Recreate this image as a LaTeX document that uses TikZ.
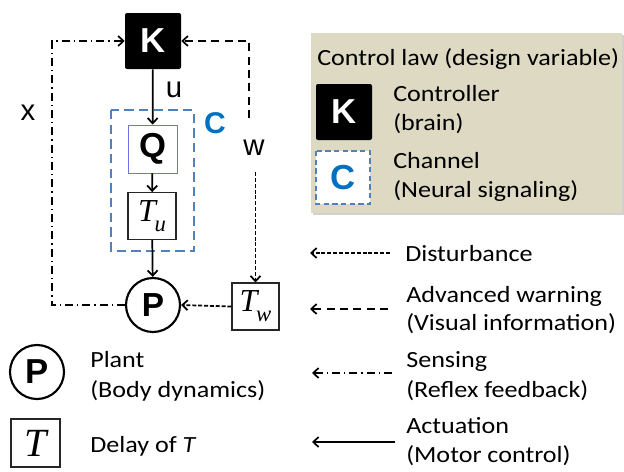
\documentclass[tikz,border=0pt]{standalone}
\usepackage{fontspec}
\setmainfont{Carlito}[FakeStretch=1.125]
\newfontfamily\arialf{Liberation Sans}
\newfontfamily\tnr{Liberation Serif}
\newcommand{\Tsym}[1]{{\tnr\itshape T\kern-0.04em\raisebox{-0.32em}{\fontsize{17}{17}\selectfont #1}}}
\usetikzlibrary{arrows.meta}
\definecolor{legbg}{HTML}{DDD9C3}
\definecolor{cblue}{HTML}{4F81BD}
\definecolor{cletter}{HTML}{0070C0}
\definecolor{qborder}{HTML}{7070F0}
\begin{document}
\begin{tikzpicture}[x=0.75pt,y=-0.75pt,
  >={Straight Barb[length=4pt,width=7.5pt]},
  conn/.style={line width=1.3pt},
  sense/.style={conn, dash pattern=on 6pt off 3pt on 1pt off 3pt},
  warn/.style={conn, dash pattern=on 6pt off 4pt},
  dist/.style={conn, dash pattern=on 3pt off 1.4pt},
  act/.style={conn},
  txt/.style={anchor=base west, inner sep=0pt, font=\fontsize{17.4}{20}\selectfont},
  kbox/.style={fill=black, rounded corners=1.5pt, minimum size=42pt, inner sep=0pt, text=white, font=\arialf\bfseries\fontsize{26}{26}\selectfont},
  qbox/.style={draw=qborder, line width=0.6pt, minimum width=36.75pt, minimum height=36pt, inner sep=0pt, font=\arialf\bfseries\fontsize{26}{26}\selectfont},
  tbox/.style={draw=black!85, line width=0.8pt, fill=white, minimum width=36pt, minimum height=35pt, inner sep=0pt, font=\fontsize{24}{24}\selectfont},
  pcirc/.style={circle, draw, line width=1.6pt, minimum size=40.5pt, inner sep=0pt, font=\arialf\bfseries\fontsize{25}{25}\selectfont},
  sig/.style={inner sep=0pt, font=\arialf\fontsize{22}{22}\selectfont},
  cdash/.style={draw=cblue, line width=1.7pt, dash pattern=on 7pt off 4pt},
]
\useasboundingbox (0,0) rectangle (624,471);

% legend background
\fill[black!18] (313,35) rectangle (624,215);
\fill[legbg] (311,33) rectangle (622,213);

% main diagram nodes
\node[kbox] (K) at (153,41) {K};
\node[qbox] (Q) at (152.5,149) {Q};
\node[tbox] (Tu) at (152,216) {\Tsym{u}};
\node[pcirc] (P) at (153,305) {P};
\node[tbox, minimum width=35.25pt, minimum height=35.25pt] (Tw) at (255.5,306.5) {\Tsym{w}};

% channel box
\draw[cdash] (111,110) rectangle (194,251);
\node[inner sep=0pt, text=cletter, font=\arialf\bfseries\fontsize{22.5}{22.5}\selectfont] (Clab) at (215,123) {C};

% signal labels
\node[sig] (xl) at (28,113) {x};
\node[sig] (ul) at (174,90) {u};
\node[sig] (wl) at (254,148) {w};

% coordinates for loops
\coordinate (xbl) at (52,305);
\coordinate (xtl) at (52,41);
\coordinate (wtop) at (249,41);
\coordinate (wend) at (249,118);
\coordinate (wstart) at (255.5,172);

% connectors
\draw[act,->] (K) -- (Q);
\draw[act,->] (Q) -- (Tu);
\draw[act,->] (Tu) -- (P);
\draw[sense,->] (P.west) -- (xbl) -- (xtl) -- (K.west);
\draw[warn,->] (wend) -- (wtop) -- (K.east);
\draw[dist,->] (wstart) -- (Tw.north);
\draw[dist,->] (Tw.west) -- (P.east);

% legend (top right)
\node[txt] (lawt) at (317,65) {Control law (design variable)};
\node[kbox] (Kleg) at (344,112) {K};
\node[txt] (ctrl1) at (393,101) {Controller};
\node[txt] (ctrl2) at (393,130) {(brain)};
\node[fill=white, minimum width=40pt, minimum height=39.5pt, inner sep=0pt] (Cleg) at (343,177.5) {};
\draw[draw=cblue, line width=1.4pt, dash pattern=on 4pt off 2.5pt] (316,151) rectangle (370,204);
\node[inner sep=0pt, text=cletter, font=\arialf\bfseries\fontsize{26}{26}\selectfont] (Clegl) at (343,177.5) {C};
\node[txt] (ch1) at (393,168) {Channel};
\node[txt] (ch2) at (393,197) {(Neural signaling)};

% legend (arrows)
\coordinate (d1) at (390,253); \coordinate (d0) at (310,253);
\draw[dist,->] (d1) -- (d0);
\node[txt] (distt) at (405,261) {Disturbance};
\coordinate (a1) at (388,309); \coordinate (a0) at (310,309);
\draw[warn,->] (a1) -- (a0);
\node[txt] (adv1) at (406,302) {Advanced warning};
\node[txt] (adv2) at (406,330) {(Visual information)};
\coordinate (s1) at (392,373); \coordinate (s0) at (312,373);
\draw[sense,->] (s1) -- (s0);
\node[txt] (sen1) at (406,367) {Sensing};
\node[txt] (sen2) at (406,397) {(Reflex feedback)};
\coordinate (c1) at (395,442); \coordinate (c0) at (312,442);
\draw[act,->] (c1) -- (c0);
\node[txt] (act1) at (406,433) {Actuation};
\node[txt] (act2) at (406,462) {(Motor control)};

% legend (bottom left)
\node[pcirc, font=\arialf\bfseries\fontsize{26}{26}\selectfont] (Pleg) at (37,372) {P};
\node[txt] (pl1) at (90,367) {Plant};
\node[txt] (pl2) at (90,397) {(Body dynamics)};
\node[tbox, minimum width=36.75pt, minimum height=36pt, font=\fontsize{30}{30}\selectfont] (Tleg) at (35.5,443) {{\tnr\itshape T}};
\node[txt] (dl) at (90,452) {Delay of \textit{T}};
\end{tikzpicture}
\end{document}
